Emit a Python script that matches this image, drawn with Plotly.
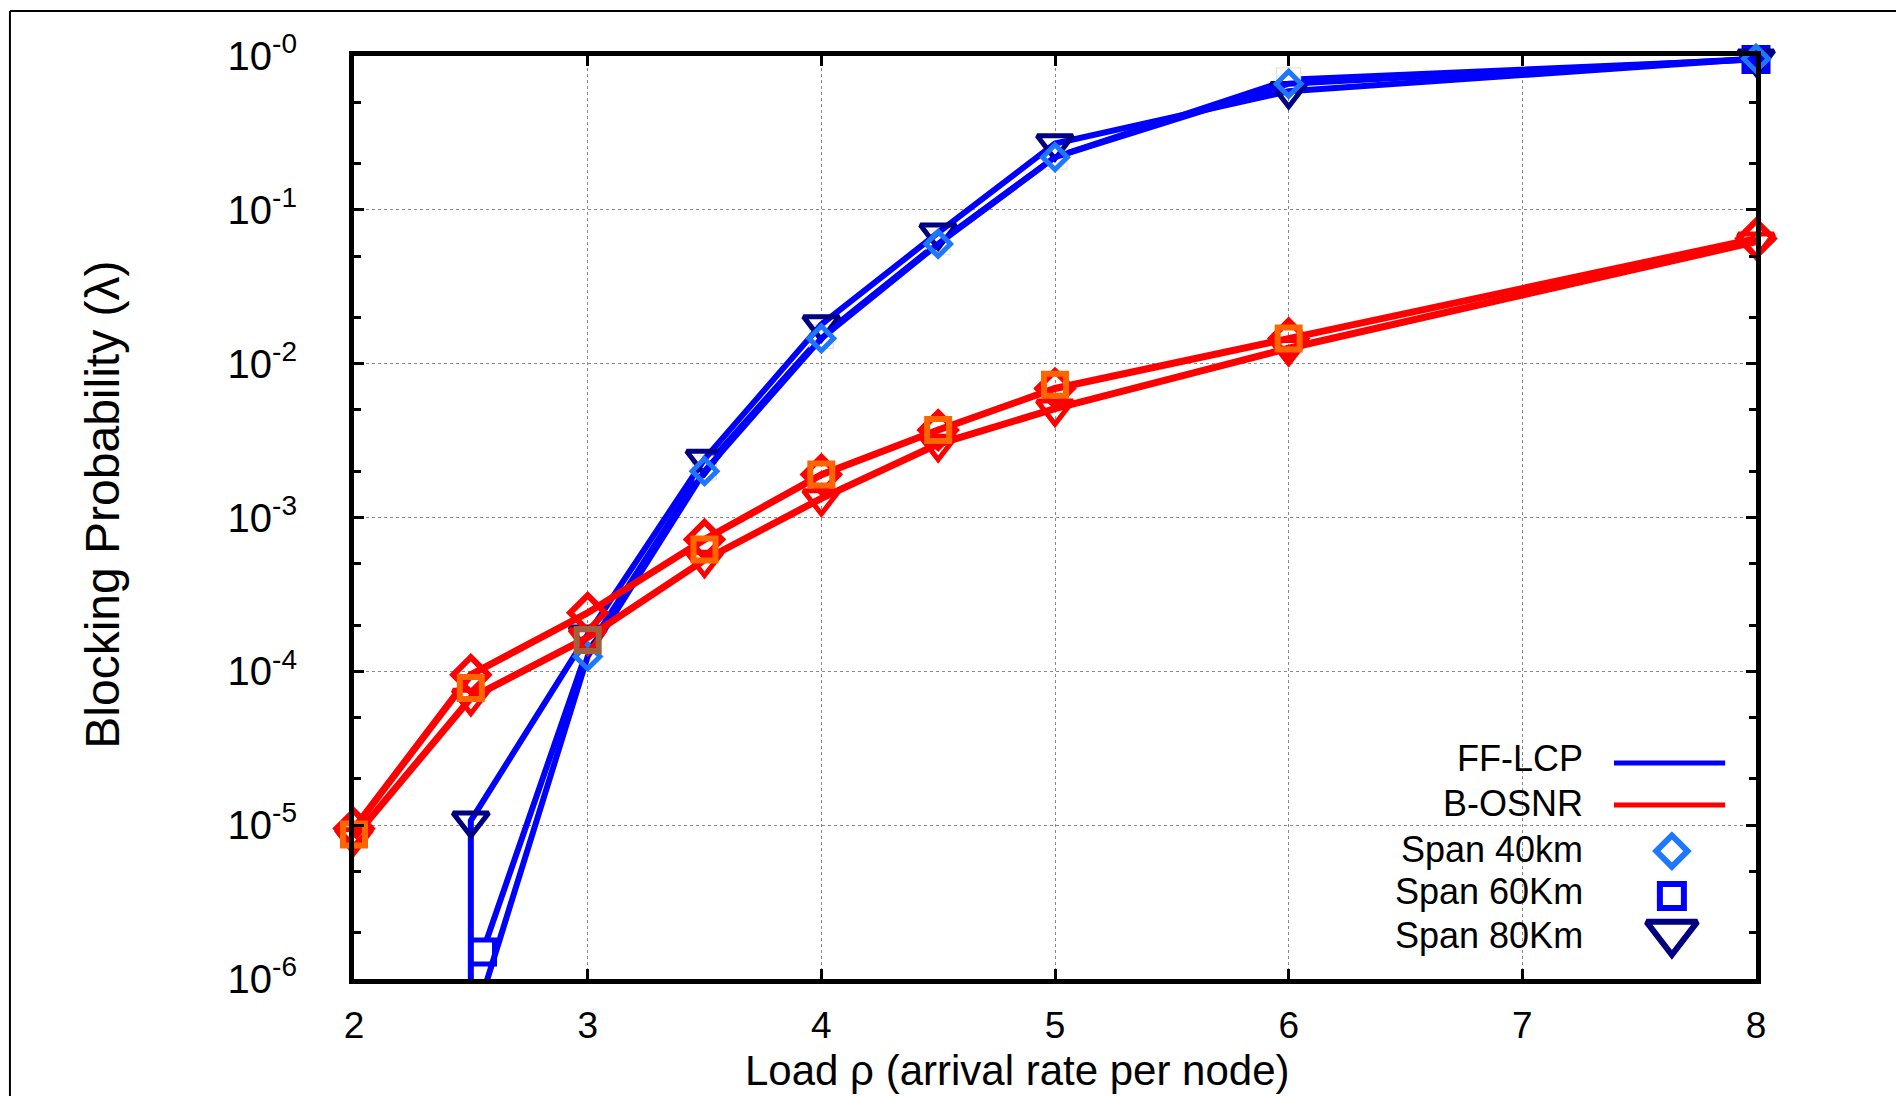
import plotly.graph_objects as go

# ---------------- data ----------------
x_ticks = [2, 3, 4, 5, 6, 7, 8]
y_ticks = [1, 1e-1, 1e-2, 1e-3, 1e-4, 1e-5, 1e-6]
y_ticktext = ["10<sup>-0</sup>", "10<sup>-1</sup>", "10<sup>-2</sup>", "10<sup>-3</sup>",
              "10<sup>-4</sup>", "10<sup>-5</sup>", "10<sup>-6</sup>"]

# FF-LCP
load_ff40 = [2.5, 3, 3.5, 4, 4.5, 5, 6, 8]
bp_ff40 = [4.5e-7, 1.25e-4, 2.0e-3, 1.46e-2, 6.0e-2, 0.22, 0.66, 0.96]
load_ff60 = [2.55, 3, 3.5, 4, 4.5, 5, 6, 8]
bp_ff60 = [1.5e-6, 1.4e-4, 2.1e-3, 1.5e-2, 6.1e-2, 0.22, 0.70, 0.95]
load_ff80 = [2.5, 2.5, 3, 3.5, 4, 4.5, 5, 6, 8]
bp_ff80 = [1e-8, 1.07e-5, 1.73e-4, 2.4e-3, 1.8e-2, 7.1e-2, 0.27, 0.59, 0.96]

# B-OSNR
load_bo = [2, 2.5, 3, 3.5, 4, 4.5, 5, 6, 8]
bp_bo40 = [9.5e-6, 9.5e-5, 2.4e-4, 7.2e-4, 1.9e-3, 3.7e-3, 6.9e-3, 1.46e-2, 6.5e-2]
bp_bo80 = [8.3e-6, 6.7e-5, 1.66e-4, 5.3e-4, 1.33e-3, 3.0e-3, 5.1e-3, 1.26e-2, 6.2e-2]
load_bo60 = [2, 2.5, 3, 3.5, 4, 4.5, 5, 6]
bp_bo60 = [8.7e-6, 7.8e-5, 1.6e-4, 6.2e-4, 1.9e-3, 3.7e-3, 7.3e-3, 1.46e-2]

legend_lines = ["FF-LCP", "B-OSNR"]
legend_marks = ["Span 40km", "Span 60Km", "Span 80Km"]

# ---------------- styles ----------------
BLUE = "#0000FF"
RED = "#FF0000"
NAVY = "#000080"
LBLUE = "#1E78FF"
ORANGE = "#FF6600"
FONT = "Liberation Sans, Arial, sans-serif"

FAINT = "#E4DCD4"
ff60_line_colors = [BLUE, FAINT, FAINT, FAINT, FAINT, FAINT, FAINT, BLUE]
ff60_line_widths = [5, 1, 1, 1, 1, 1, 1, 5]
ff60_fill = ["white", "white", "white", "white", "white", "white", "white", BLUE]
bo60_colors = [ORANGE, ORANGE, "#A0603C", ORANGE, ORANGE, ORANGE, ORANGE, ORANGE]

fig = go.Figure()

# FF-LCP series
fig.add_trace(go.Scatter(x=load_ff60, y=bp_ff60, mode="lines+markers", cliponaxis=False,
                         line=dict(color=BLUE, width=6),
                         marker=dict(symbol="square", size=24, color=ff60_fill,
                                     line=dict(color=ff60_line_colors, width=ff60_line_widths))))
fig.add_trace(go.Scatter(x=load_ff80, y=bp_ff80, mode="lines+markers", cliponaxis=False,
                         line=dict(color=BLUE, width=6),
                         marker=dict(symbol="triangle-down-open", size=31, color=NAVY,
                                     line=dict(width=5))))
fig.add_trace(go.Scatter(x=load_ff40, y=bp_ff40, mode="lines+markers", cliponaxis=False,
                         line=dict(color=BLUE, width=6),
                         marker=dict(symbol="diamond-open", size=19, color=LBLUE,
                                     line=dict(width=5))))
# B-OSNR series
fig.add_trace(go.Scatter(x=load_bo, y=bp_bo80, mode="lines+markers", cliponaxis=False,
                         line=dict(color=RED, width=7),
                         marker=dict(symbol="triangle-down-open", size=31, color=RED,
                                     line=dict(width=5))))
fig.add_trace(go.Scatter(x=load_bo, y=bp_bo40, mode="lines+markers", cliponaxis=False,
                         line=dict(color=RED, width=7),
                         marker=dict(symbol="diamond-open", size=27, color=RED,
                                     line=dict(width=6))))
fig.add_trace(go.Scatter(x=load_bo60, y=bp_bo60, mode="markers", cliponaxis=False,
                         marker=dict(symbol="square-open", size=22, color=bo60_colors,
                                     line=dict(width=6))))

# legend symbols on an overlay axis spanning the plot area (0..1)
leg_x = 0.940
fig.add_trace(go.Scatter(x=[leg_x], y=[0.1386], mode="markers", xaxis="x2", yaxis="y2",
                         cliponaxis=False,
                         marker=dict(symbol="diamond-open", size=24, color=LBLUE, line=dict(width=6))))
fig.add_trace(go.Scatter(x=[leg_x], y=[0.090], mode="markers", xaxis="x2", yaxis="y2",
                         cliponaxis=False,
                         marker=dict(symbol="square-open", size=24, color=BLUE, line=dict(width=6))))
fig.add_trace(go.Scatter(x=[leg_x], y=[0.050], mode="markers", xaxis="x2", yaxis="y2",
                         cliponaxis=False,
                         marker=dict(symbol="triangle-down-open", size=44, color=NAVY, line=dict(width=6))))

axis_common = dict(showline=True, linewidth=5, linecolor="black", mirror="ticks",
                   ticks="inside", ticklen=10, tickwidth=3, tickcolor="black",
                   showgrid=True, gridcolor="#8a8a8a", gridwidth=1, griddash="dot",
                   zeroline=False)

fig.update_layout(
    width=1896, height=1096,
    margin=dict(l=354, r=140, t=56, b=117),
    paper_bgcolor="white", plot_bgcolor="white",
    showlegend=False,
    font=dict(family=FONT, color="black"),
    xaxis=dict(range=[2, 8], tickmode="array", tickvals=x_ticks,
               ticktext=[str(v) for v in x_ticks],
               tickfont=dict(size=37), ticklabelstandoff=10, **axis_common),
    yaxis=dict(type="log", range=[-6, 0], tickmode="array", tickvals=y_ticks,
               ticktext=y_ticktext, tickfont=dict(size=40), ticklabelstandoff=44,
               minor=dict(ticks="inside", ticklen=7, tickwidth=3, tickcolor="black",
                          dtick="D2", showgrid=False),
               **axis_common),
    xaxis2=dict(overlaying="x", range=[0, 1], visible=False, fixedrange=True),
    yaxis2=dict(overlaying="y", range=[0, 1], visible=False, fixedrange=True),
)

# axis titles
fig.add_annotation(text="Load ρ (arrival rate per node)", xref="paper", yref="paper",
                   x=0.473, y=-0.099, xanchor="center", yanchor="middle",
                   showarrow=False, font=dict(size=42))
fig.add_annotation(text="Blocking Probability (λ)", xref="paper", yref="paper",
                   x=-0.180, y=0.5135, xanchor="center", yanchor="middle", textangle=-90,
                   showarrow=False, font=dict(size=48))

# legend texts
legend_rows = [0.2384, 0.1896, 0.1408, 0.0943, 0.0466]
for txt, yy in zip(legend_lines + legend_marks, legend_rows):
    fig.add_annotation(text=txt, xref="paper", yref="paper", x=0.878, y=yy,
                       xanchor="right", yanchor="middle", showarrow=False,
                       font=dict(size=36))
# legend line samples
fig.add_shape(type="line", xref="paper", yref="paper", x0=0.8987, x1=0.978, y0=0.234, y1=0.234,
              line=dict(color=BLUE, width=5))
fig.add_shape(type="line", xref="paper", yref="paper", x0=0.8987, x1=0.978, y0=0.1885, y1=0.1885,
              line=dict(color=RED, width=5))

# thin outer frame
fig.add_shape(type="line", xref="paper", yref="paper", x0=-0.2454, x1=-0.2454, y0=-0.3, y1=1.0488,
              line=dict(color="black", width=2))
fig.add_shape(type="line", xref="paper", yref="paper", x0=-0.2454, x1=1.3, y0=1.0488, y1=1.0488,
              line=dict(color="black", width=2))

fig.write_html("out.html")
